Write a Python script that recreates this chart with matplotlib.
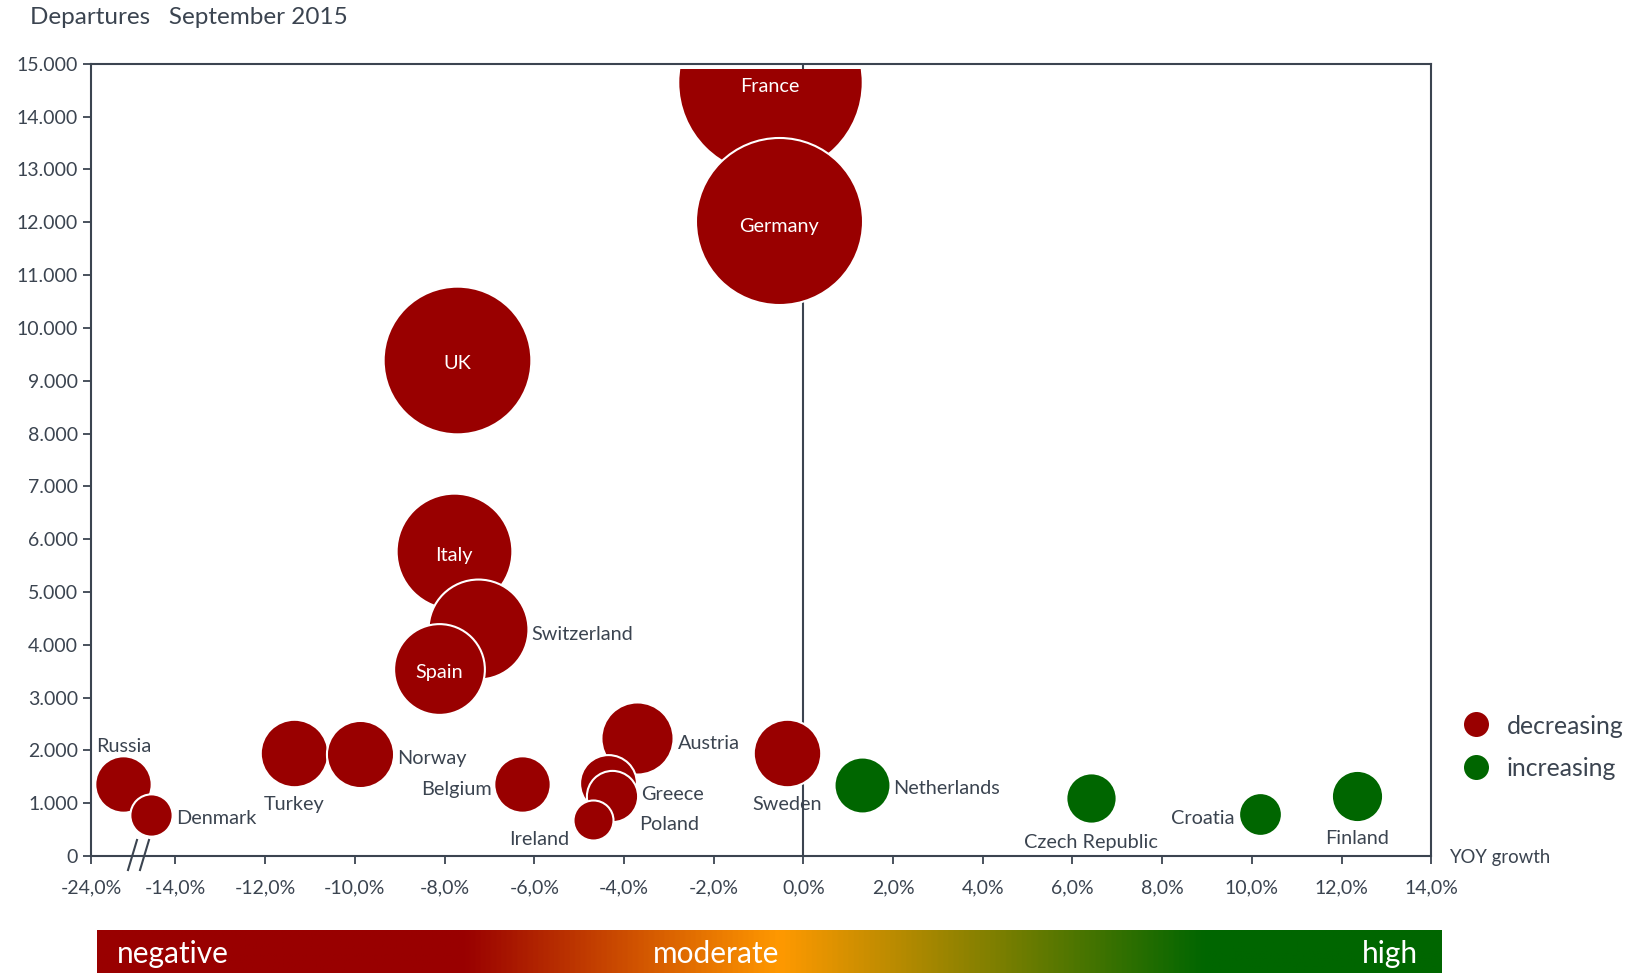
import matplotlib.pyplot as plt
import numpy as np
from matplotlib.colors import LinearSegmentedColormap
from matplotlib.lines import Line2D
from matplotlib.patches import Rectangle

plt.rcParams['font.family'] = ['Lato', 'DejaVu Sans']

# Data (x = YOY growth as plotted; axis is broken between -24% and -14%)
countries = ['France', 'Germany', 'UK', 'Italy', 'Switzerland', 'Spain', 'Austria',
             'Sweden', 'Turkey', 'Norway', 'Russia', 'Belgium', 'Greece', 'Netherlands',
             'Poland', 'Finland', 'Czech Republic', 'Croatia', 'Denmark', 'Ireland']
growth = [-0.75, -0.54, -7.72, -7.79, -7.25, -8.12, -3.72,
          -0.37, -11.35, -9.89, -15.16, -6.27, -4.35, 1.31,
          -4.26, 12.35, 6.41, 10.18, -14.55, -4.68]
departures = [14660, 12020, 9400, 5770, 4300, 3550, 2240,
              1960, 1960, 1940, 1370, 1370, 1390, 1350,
              1130, 1130, 1090, 790, 770, 690]

xtick_labels = ['-24,0%', '-14,0%', '-12,0%', '-10,0%', '-8,0%', '-6,0%', '-4,0%',
                '-2,0%', '0,0%', '2,0%', '4,0%', '6,0%', '8,0%', '10,0%', '12,0%', '14,0%']
ytick_values = list(range(0, 15001, 1000))
legend_labels = ['decreasing', 'increasing']
bar_labels = ['negative', 'moderate', 'high']

# label placement: offset in points, alignment
inside = ['France', 'Germany', 'UK', 'Italy', 'Spain']
label_pos = {
    'France': (0, -3.5, 'center'), 'Germany': (0, -3.5, 'center'), 'UK': (0, -3, 'center'),
    'Italy': (0, -3, 'center'), 'Spain': (0, -3, 'center'),
    'Switzerland': (38, -4, 'left'), 'Austria': (30, -4, 'left'),
    'Sweden': (0, -37.5, 'center'), 'Turkey': (0, -37.5, 'center'),
    'Norway': (27, -3.5, 'left'), 'Russia': (0, 27, 'center'),
    'Belgium': (-22, -4, 'right'), 'Greece': (24, -8.5, 'left'),
    'Netherlands': (22.5, -3, 'left'), 'Poland': (19.5, -20.5, 'left'),
    'Finland': (0, -30, 'center'), 'Czech Republic': (0, -32, 'center'),
    'Croatia': (-18, -3, 'right'), 'Denmark': (18, -2.5, 'left'),
    'Ireland': (-39, -14.5, 'center'),
}

RED = '#990000'
GREEN = '#006600'
TXT = '#3b4450'

fig = plt.figure(figsize=(16.43, 9.73), dpi=100)
ax = fig.add_axes([0.0555, 0.1202, 0.8156, 0.8142])

x_left = -15.88
ax.set_xlim(x_left, 14)
ax.set_ylim(0, 15000)

ax.axvline(0, color=TXT, lw=1.5, zorder=1)

clip = Rectangle((-0.01, -0.01), 1.02, 1.003, transform=ax.transAxes, visible=False)
ax.add_patch(clip)

order = np.argsort(departures)[::-1]
scale = 17640 / 14660
for i in order:
    c = GREEN if growth[i] > 0 else RED
    sc = ax.scatter(growth[i], departures[i], s=departures[i] * scale, color=c,
                    edgecolor='white', linewidth=1.5, zorder=3)
    sc.set_clip_path(clip)
    dx, dy, ha = label_pos[countries[i]]
    tc = 'white' if countries[i] in inside else TXT
    ax.annotate(countries[i], (growth[i], departures[i]), xytext=(dx, dy),
                textcoords='offset points', ha=ha, va='center', color=tc,
                fontsize=14.3, zorder=5)

xticks = [x_left] + list(range(-14, 15, 2))
ax.set_xticks(xticks)
ax.set_xticklabels(xtick_labels)
ax.set_yticks(ytick_values)
ax.set_yticklabels(['0'] + [f'{v // 1000}.000' for v in ytick_values[1:]])
ax.tick_params(colors=TXT, labelsize=14, length=6, width=1.3, direction='out')
ax.tick_params(axis='x', pad=11)
for s in ax.spines.values():
    s.set_color(TXT)
    s.set_linewidth(1.5)
    s.set_zorder(2)

# axis break marks
for xo in [128, 140]:
    fig.add_artist(Line2D([xo / 1643, (xo + 9) / 1643], [1 - 870 / 973, 1 - 840 / 973],
                          color=TXT, lw=1.5))

fig.text(30 / 1643, 1 - 17 / 973, 'Departures   September 2015', fontsize=17.5,
         color=TXT, ha='left', va='center')
fig.text(1449 / 1643, 1 - 857 / 973, 'YOY growth', fontsize=13.4, color=TXT,
         ha='left', va='center')

# legend
for lab, c, yy in zip(legend_labels, [RED, GREEN], [724, 767]):
    fig.add_artist(Line2D([1476 / 1643], [1 - yy / 973], marker='o', color='none',
                          markerfacecolor=c, markeredgecolor='none', markersize=18))
    fig.text(1507 / 1643, 1 - (yy + 2) / 973, lab, fontsize=17.8, color=TXT,
             ha='left', va='center')

# gradient bar
cax = fig.add_axes([97 / 1643, 0, 1345 / 1643, 43 / 973])
cmap = LinearSegmentedColormap.from_list(
    'grad', [(0, RED), (0.272, RED), (0.508, '#ff9900'), (0.825, GREEN), (1, GREEN)])
cax.imshow(np.linspace(0, 1, 512)[None, :], aspect='auto', cmap=cmap, extent=(0, 1, 0, 1))
cax.set_axis_off()
for lab, xx, ha in zip(bar_labels, [0.015, 0.46, 0.982], ['left', 'center', 'right']):
    cax.text(xx, 0.45, lab, color='white', fontsize=21.5, ha=ha, va='center')

fig.savefig('out.png', dpi=100)
